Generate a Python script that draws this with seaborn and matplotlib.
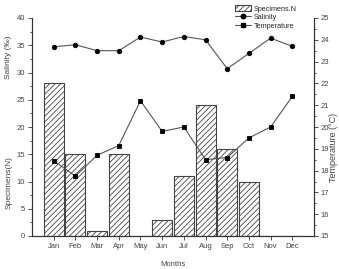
import numpy as np
import pandas as pd
import matplotlib
matplotlib.use("Agg")
import matplotlib.pyplot as plt
import seaborn as sns
from matplotlib.ticker import MultipleLocator
from matplotlib.patches import Patch
from matplotlib.lines import Line2D

months = ["Jan", "Feb", "Mar", "Apr", "May", "Jun", "Jul", "Aug", "Sep", "Oct", "Nov", "Dec"]
specimens = [28, 15, 1, 15, 0, 3, 11, 24, 16, 10, 0, 0]
salinity = [34.7, 35.1, 34.0, 34.0, 36.5, 35.6, 36.6, 36.0, 30.7, 33.5, 36.3, 34.8]
temperature = [18.45, 17.75, 18.7, 19.15, 21.2, 19.8, 20.0, 18.5, 18.6, 19.5, 20.0, 21.4]

sns.set_style("white")
plt.rcParams["font.family"] = ["Liberation Sans", "DejaVu Sans"]
plt.rcParams["hatch.linewidth"] = 0.6
plt.rcParams["hatch.color"] = "#444444"

df = pd.DataFrame({"Month": months, "Specimens": specimens,
                   "Salinity": salinity, "Temperature": temperature})

fig = plt.figure(figsize=(3.39, 2.69), dpi=100)
ax = fig.add_axes([32/339, 1 - 236/269, (314-32)/339, (236-18)/269])

sns.barplot(data=df, x="Month", y="Specimens", order=months, ax=ax, width=0.92,
            color="white", edgecolor="#444444", linewidth=0.8, hatch="//////")
sns.pointplot(data=df, x="Month", y="Salinity", order=months, ax=ax,
              color="#555555", markers="o", linestyles="-", markersize=3.2,
              linewidth=0.8)
for l in ax.lines:
    l.set_markerfacecolor("black")
    l.set_markeredgecolor("black")

ax2 = ax.twinx()
sns.pointplot(data=df, x="Month", y="Temperature", order=months, ax=ax2,
              color="#555555", markers="s", linestyles="-", markersize=2.8,
              linewidth=0.8)
for l in ax2.lines:
    l.set_markerfacecolor("black")
    l.set_markeredgecolor("black")

ax.set_xlim(-1, 12)
ax.set_ylim(0, 40)
ax2.set_ylim(15, 25)
ax.yaxis.set_major_locator(MultipleLocator(5))
ax.yaxis.set_minor_locator(MultipleLocator(2.5))
ax2.yaxis.set_major_locator(MultipleLocator(1))
ax2.yaxis.set_minor_locator(MultipleLocator(0.5))

for a in (ax, ax2):
    a.spines["top"].set_visible(False)
    for s in ("left", "right", "bottom"):
        a.spines[s].set_color("#333333")
        a.spines[s].set_linewidth(0.8)
    a.tick_params(which="both", direction="out", color="#333333", width=0.6,
                  labelsize=5.5, labelcolor="#444444")
    a.tick_params(which="major", length=3, pad=2)
    a.tick_params(which="minor", length=1.5)
ax.tick_params(axis="y", which="both", left=True, right=False)
ax.tick_params(axis="x", bottom=True, length=3)
ax2.tick_params(axis="y", which="both", right=True, left=False)

ax.set_ylabel("")
ax.set_xlabel("Months", fontsize=5.5, color="#444444", labelpad=8)
ax2.set_ylabel("")
fig.text(333/339, 1 - 147/269, "Temperature (°C)", rotation=90, fontsize=6.5,
         color="#444444", ha="center", va="center")

fig.text(9/339, 1 - 57/269, "Salinity (‰)", rotation=90, fontsize=6,
         color="#444444", ha="center", va="center")
fig.text(9/339, 1 - 183/269, "Specimens(N)", rotation=90, fontsize=6,
         color="#444444", ha="center", va="center")

handles = [Patch(facecolor="white", edgecolor="#444444", hatch="//////", linewidth=0.8),
           Line2D([], [], color="#555555", marker="o", markersize=3.2,
                  markerfacecolor="black", markeredgecolor="black", linewidth=0.8),
           Line2D([], [], color="#555555", marker="s", markersize=2.8,
                  markerfacecolor="black", markeredgecolor="black", linewidth=0.8)]
fig.legend(handles, ["Specimens.N", "Salinity", "Temperature"], loc="upper left",
           bbox_to_anchor=(230/339, 1 - 0/269), frameon=False, fontsize=5.2,
           handlelength=2.2, handleheight=0.9, labelspacing=0.15, borderpad=0.2,
           handletextpad=0.4)

fig.savefig("out.png", dpi=100)
